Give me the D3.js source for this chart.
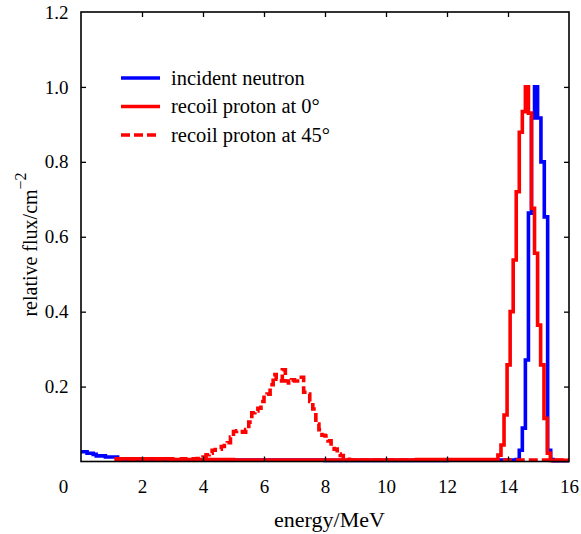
<!DOCTYPE html>
<html>
<head>
<meta charset="utf-8">
<script src="https://cdn.jsdelivr.net/npm/d3@7"></script>
<style>
  html, body { margin: 0; padding: 0; background: #fff; }
  svg { display: block; font-family: "Liberation Serif", "Times New Roman", serif; }
</style>
</head>
<body>
<svg id="chart" width="581" height="534"></svg>
<script>
// ---------------- data ----------------
const xTicks = [0, 2, 4, 6, 8, 10, 12, 14, 16];
const yTicks = [0.2, 0.4, 0.6, 0.8, 1.0, 1.2];
const seriesNames = ["incident neutron", "recoil proton at 0\u00b0", "recoil proton at 45\u00b0"];

// incident neutron: histogram bin edges (MeV) and relative flux per bin
const neutronEdges = [0, 0.2, 0.4, 0.5, 0.8, 1.2, 4, 8, 12, 14.27, 14.37, 14.47, 14.57, 14.67,
  14.77, 14.87, 14.97, 15.08, 15.19, 15.3, 15.4, 15.48, 16];
const neutronValues = [0.026, 0.022, 0.019, 0.015, 0.012, 0.004, 0.004, 0.003, 0.004, 0.005,
  0.03, 0.089, 0.271, 0.663, 0.917, 1.0, 0.917, 0.80, 0.653, 0.03, 0.005, 0.002];

// recoil proton at 0 deg
const proton0Edges = [1.1, 3, 5, 8, 11, 13.67, 13.77, 13.87, 13.97, 14.07, 14.17, 14.27, 14.37,
  14.47, 14.57, 14.67, 14.77, 14.87, 14.97, 15.07, 15.18, 15.29, 15.39, 16];
const proton0Values = [0.007, 0.005, 0.004, 0.004, 0.005, 0.017, 0.044, 0.124, 0.258, 0.40,
  0.538, 0.72, 0.879, 0.934, 1.0, 0.93, 0.676, 0.556, 0.364, 0.258, 0.115, 0.022, 0.003];

// recoil proton at 45 deg: low-level edges/values, hump in 0.1 MeV bins from 3.8 MeV, tail
const proton45LeadEdges = [1.1, 2.5, 3.3, 3.8];
const proton45LeadValues = [0.006, 0.005, 0.007];
const proton45HumpStart = 3.8;
const proton45HumpBin = 0.1;
const proton45HumpValues = [0.008, 0.01, 0.012, 0.018, 0.022, 0.03, 0.032, 0.033, 0.04, 0.048,
  0.05, 0.065, 0.08, 0.082, 0.08, 0.078, 0.085, 0.105, 0.13, 0.135,
  0.142, 0.16, 0.178, 0.18, 0.205, 0.232, 0.22, 0.215, 0.245, 0.215,
  0.21, 0.218, 0.215, 0.225, 0.225, 0.185, 0.18, 0.16, 0.14, 0.1,
  0.085, 0.07, 0.068, 0.055, 0.042, 0.033, 0.02, 0.016, 0.01, 0.006];
const proton45TailEdges = [8.8, 12, 16];
const proton45TailValues = [0.004, 0.004];

// ---------------- chart ----------------
const svg = d3.select("#chart");
const plotL = 81, plotR = 569, plotT = 12, plotB = 461.5;
const x = d3.scaleLinear().domain([0, 16]).range([plotL, plotR]);
const y = d3.scaleLinear().domain([0, 1.2]).range([plotB, plotT]);

function stairs(edges, values) {
  const pts = [];
  for (let i = 0; i < values.length; i++) {
    pts.push([edges[i], values[i]]);
    pts.push([edges[i + 1], values[i]]);
  }
  return pts;
}
const line = d3.line().x(d => x(d[0])).y(d => y(d[1]));

// build 45 deg series
const humpEdges = proton45HumpValues.map((v, i) => proton45HumpStart + i * proton45HumpBin);
humpEdges.push(proton45HumpStart + proton45HumpValues.length * proton45HumpBin);
const p45pts = stairs(proton45LeadEdges, proton45LeadValues)
  .concat(stairs(humpEdges, proton45HumpValues))
  .concat(stairs(proton45TailEdges, proton45TailValues));

const colors = ["#0000ff", "#ff0000", "#ff0000"];
const dashes = [null, null, "9,4"];
const sw = 3.6;

svg.append("path").attr("d", line(stairs(neutronEdges, neutronValues)))
  .attr("fill", "none").attr("stroke", colors[0]).attr("stroke-width", sw).attr("stroke-linejoin", "miter");
svg.append("path").attr("d", line(stairs(proton0Edges, proton0Values)))
  .attr("fill", "none").attr("stroke", colors[1]).attr("stroke-width", sw).attr("stroke-linejoin", "miter");
svg.append("path").attr("d", line(p45pts))
  .attr("fill", "none").attr("stroke", colors[2]).attr("stroke-width", sw)
  .attr("stroke-dasharray", dashes[2]).attr("stroke-linejoin", "miter");

// axes (inward ticks)
const fmtY = d3.format(".1f");
const gx = svg.append("g").attr("transform", `translate(0,${plotB})`)
  .call(d3.axisBottom(x).tickValues(xTicks).tickFormat(d3.format("d"))
    .tickSizeInner(-5).tickSizeOuter(0).tickPadding(18));
const gy = svg.append("g").attr("transform", `translate(${plotL},0)`)
  .call(d3.axisLeft(y).tickValues(yTicks).tickFormat(fmtY)
    .tickSizeInner(-5).tickSizeOuter(0).tickPadding(12.5));
const gt = svg.append("g").attr("transform", `translate(0,${plotT})`)
  .call(d3.axisTop(x).tickValues(xTicks).tickFormat("").tickSizeInner(-5).tickSizeOuter(0));
const gr = svg.append("g").attr("transform", `translate(${plotR},0)`)
  .call(d3.axisRight(y).tickValues(yTicks).tickFormat("").tickSizeInner(-5).tickSizeOuter(0));

[gx, gy, gt, gr].forEach(g => {
  g.select(".domain").remove();
  g.selectAll("line").attr("stroke", "#000").attr("stroke-width", 1.3);
  g.selectAll("text").attr("fill", "#000").attr("font-size", 19)
    .attr("font-family", '"Liberation Serif", serif');
});
// the origin label sits left of the axis
gx.selectAll(".tick").filter(d => d === 0).select("text").attr("dx", -18);
gx.selectAll(".tick").filter(d => d === 0 || d === 16).select("line").remove();
gy.selectAll(".tick").filter(d => d === 1.2).select("line").remove();
gt.selectAll(".tick").filter(d => d === 0 || d === 16).select("line").remove();
gr.selectAll(".tick").filter(d => d === 1.2).select("line").remove();

// frame
svg.append("rect").attr("x", plotL).attr("y", plotT)
  .attr("width", plotR - plotL).attr("height", plotB - plotT)
  .attr("fill", "none").attr("stroke", "#000").attr("stroke-width", 1.6);

// axis titles
svg.append("text").attr("x", 329.5).attr("y", 526.5).attr("text-anchor", "middle")
  .attr("font-size", 22).text("energy/MeV");
const yl = svg.append("text").attr("transform", "translate(37,244.5) rotate(-90)")
  .attr("text-anchor", "middle").attr("font-size", 20);
yl.append("tspan").text("relative flux/cm");
yl.append("tspan").attr("dy", -11).attr("font-size", 16).text("\u22122");

// legend
const legendY = [78, 106.5, 135];
seriesNames.forEach((name, i) => {
  svg.append("line").attr("x1", 121).attr("x2", 160).attr("y1", legendY[i]).attr("y2", legendY[i])
    .attr("stroke", colors[i]).attr("stroke-width", sw)
    .attr("stroke-dasharray", dashes[i]);
  svg.append("text").attr("x", 171).attr("y", legendY[i] + 6.5)
    .attr("font-size", 20.5).text(name);
});
</script>
</body>
</html>
